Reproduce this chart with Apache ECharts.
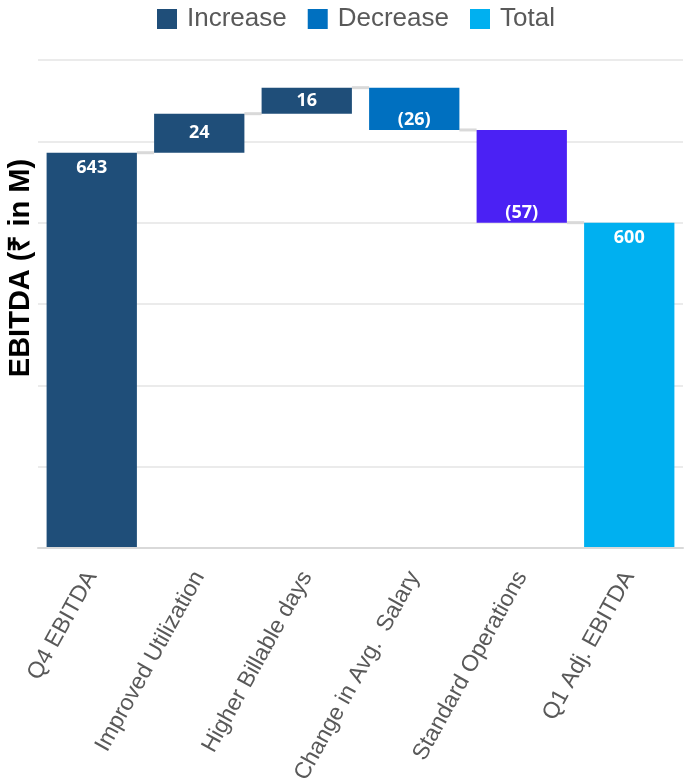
<!DOCTYPE html>
<html>
<head>
<meta charset="utf-8">
<script src="https://cdn.jsdelivr.net/npm/echarts@6/dist/echarts.min.js"></script>
<style>
html,body{margin:0;padding:0;background:#fff;}
#chart{width:685px;height:784px;}
</style>
</head>
<body>
<div id="chart"></div>
<script>
const categories = ['Q4 EBITDA', 'Improved Utilization', 'Higher Billable days', 'Change in Avg.  Salary', 'Standard Operations', 'Q1 Adj. EBITDA'];
const changes = [643, 24, 16, -26, -57, 600];
const kinds = ['start', 'increase', 'increase', 'decrease', 'decrease', 'total'];
const legendNames = ['Increase', 'Decrease', 'Total'];
const yTicks = [400, 450, 500, 550, 600, 650, 700];

const COLORS = { Increase: '#1f4e79', Decrease: '#0070c0', Total: '#00b0f0' };
const SPECIAL = '#4b21f4';

// running totals
const helper = [], inc = [], dec = [], tot = [], levels = [];
let run = 0;
changes.forEach((v, i) => {
  const k = kinds[i];
  if (k === 'start') {
    run = v; helper.push(0); inc.push({value: v, label: {position: 'insideTop', distance: 6}}); dec.push('-'); tot.push('-');
  } else if (k === 'total') {
    run = v; helper.push(0); inc.push('-'); dec.push('-'); tot.push(v);
  } else if (k === 'increase') {
    helper.push(run); inc.push(v); dec.push('-'); tot.push('-'); run += v;
  } else {
    const nr = run + v; helper.push(nr); inc.push('-');
    const item = {value: -v};
    if (i === 4) item.itemStyle = {color: SPECIAL};
    dec.push(item); tot.push('-'); run = nr;
  }
  levels.push(run);
});
const connectors = [];
for (let i = 0; i < categories.length - 1; i++) connectors.push([i, levels[i]]);

const BAR_RATIO = 0.84;
const labelBase = {show: true, color: '#fff', fontFamily: 'Open Sans', fontWeight: 'bold', fontSize: 18};

const chart = echarts.init(document.getElementById('chart'));
chart.setOption({
  animation: false,
  backgroundColor: '#fff',
  legend: {
    data: legendNames,
    top: 1, left: 152,
    icon: 'rect', itemWidth: 20, itemHeight: 20, itemGap: 21,
    textStyle: {fontFamily: 'Liberation Sans', fontSize: 26, color: '#595959', padding: [0, 0, 0, 5]}
  },
  grid: {left: 38, right: 2, top: 60, bottom: 236, containLabel: false, outerBoundsMode: 'none'},
  xAxis: {
    type: 'category', data: categories, z: 10,
    axisLine: {show: true, lineStyle: {color: '#d9d9d9', width: 2}},
    axisTick: {show: false},
    axisLabel: {rotate: 61, interval: 0, margin: 25, fontFamily: 'Liberation Sans', fontSize: 23, color: '#595959'}
  },
  yAxis: {
    type: 'value', min: yTicks[0], max: yTicks[yTicks.length - 1], interval: 50,
    name: 'EBITDA (₹ in M)', nameLocation: 'middle', nameGap: 3,
    nameTextStyle: {fontFamily: 'Liberation Sans', fontSize: 29, fontWeight: 'bold', color: '#000', padding: [0, 0, 0, 72]},
    axisLine: {show: false}, axisTick: {show: false}, axisLabel: {show: false},
    splitLine: {lineStyle: {color: '#ebebeb', width: 2}}
  },
  series: [
    {name: 'helper', type: 'bar', stack: 'w', data: helper, barWidth: '84%', itemStyle: {color: 'transparent'}, silent: true},
    {name: 'Increase', type: 'bar', stack: 'w', data: inc, barWidth: '84%', itemStyle: {color: COLORS.Increase},
      label: Object.assign({}, labelBase, {position: 'inside'})},
    {name: 'Decrease', type: 'bar', stack: 'w', data: dec, barWidth: '84%', itemStyle: {color: COLORS.Decrease},
      label: Object.assign({}, labelBase, {position: 'insideBottom', distance: 1, formatter: p => '(' + p.value + ')'})},
    {name: 'Total', type: 'bar', stack: 'w', data: tot, barWidth: '84%', itemStyle: {color: COLORS.Total},
      label: Object.assign({}, labelBase, {position: 'insideTop', distance: 6})},
    {name: 'conn', type: 'custom', data: connectors, z: 1, silent: true,
      renderItem: function (params, api) {
        const i = api.value(0), lv = api.value(1);
        const p1 = api.coord([i, lv]), p2 = api.coord([i + 1, lv]);
        const half = api.size([1, 0])[0] * BAR_RATIO / 2;
        return {type: 'line', shape: {x1: p1[0] + half, y1: p1[1], x2: p2[0] - half, y2: p2[1]},
          style: {stroke: '#d9d9d9', lineWidth: 3}};
      }
    }
  ]
});
</script>
</body>
</html>
